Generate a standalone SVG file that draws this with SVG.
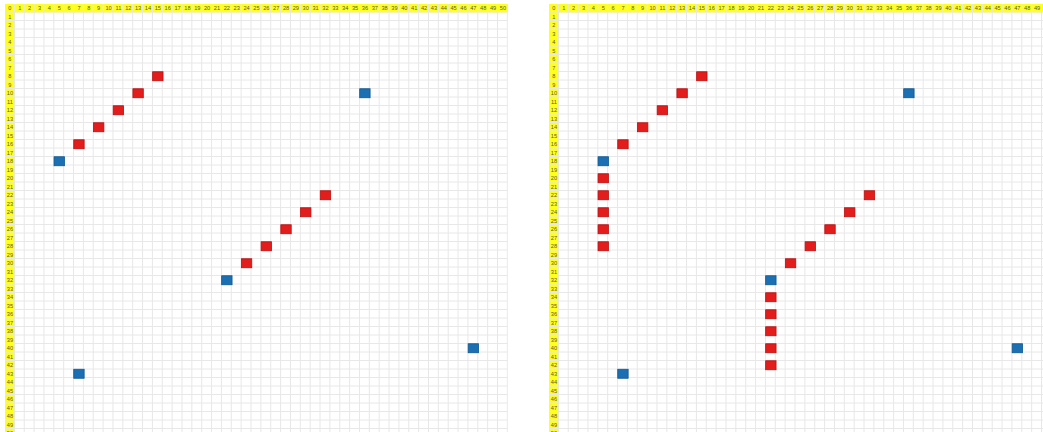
<svg xmlns="http://www.w3.org/2000/svg" xmlns:xlink="http://www.w3.org/1999/xlink" width="1043" height="432" viewBox="0 0 1043 432">
<style>
.hd{font-family:"Liberation Sans",Arial,sans-serif;font-size:5.6px;fill:#5a5a3a;text-anchor:middle;dominant-baseline:central}
.red{fill:#e31c1c;stroke:#b71212;stroke-width:0.8}
.blue{fill:#1b70b4;stroke:#0f568f;stroke-width:0.8}
</style>
<defs>
<pattern id="gp" x="5" y="4" width="9.86" height="8.5" patternUnits="userSpaceOnUse">
<path d="M9.36 0V8.5M0 8H9.86" fill="none" stroke="#e7e7e7" stroke-width="1"/>
</pattern>
<g id="grid">
<rect x="5" y="4" width="502.86" height="440" fill="#fff"/>
<rect x="5" y="4" width="502.86" height="8.5" fill="#ffff1e"/>
<rect x="5" y="4" width="9.86" height="440" fill="#ffff1e"/>
<rect x="5" y="4" width="502.86" height="440" fill="url(#gp)"/>
<g class="hd">
<text x="9.93" y="8.25">0</text><text x="19.79" y="8.25">1</text><text x="29.65" y="8.25">2</text><text x="39.51" y="8.25">3</text><text x="49.37" y="8.25">4</text><text x="59.23" y="8.25">5</text><text x="69.09" y="8.25">6</text><text x="78.95" y="8.25">7</text><text x="88.81" y="8.25">8</text><text x="98.67" y="8.25">9</text><text x="108.53" y="8.25">10</text><text x="118.39" y="8.25">11</text><text x="128.25" y="8.25">12</text><text x="138.11" y="8.25">13</text><text x="147.97" y="8.25">14</text><text x="157.83" y="8.25">15</text><text x="167.69" y="8.25">16</text><text x="177.55" y="8.25">17</text><text x="187.41" y="8.25">18</text><text x="197.27" y="8.25">19</text><text x="207.13" y="8.25">20</text><text x="216.99" y="8.25">21</text><text x="226.85" y="8.25">22</text><text x="236.71" y="8.25">23</text><text x="246.57" y="8.25">24</text><text x="256.43" y="8.25">25</text><text x="266.29" y="8.25">26</text><text x="276.15" y="8.25">27</text><text x="286.01" y="8.25">28</text><text x="295.87" y="8.25">29</text><text x="305.73" y="8.25">30</text><text x="315.59" y="8.25">31</text><text x="325.45" y="8.25">32</text><text x="335.31" y="8.25">33</text><text x="345.17" y="8.25">34</text><text x="355.03" y="8.25">35</text><text x="364.89" y="8.25">36</text><text x="374.75" y="8.25">37</text><text x="384.61" y="8.25">38</text><text x="394.47" y="8.25">39</text><text x="404.33" y="8.25">40</text><text x="414.19" y="8.25">41</text><text x="424.05" y="8.25">42</text><text x="433.91" y="8.25">43</text><text x="443.77" y="8.25">44</text><text x="453.63" y="8.25">45</text><text x="463.49" y="8.25">46</text><text x="473.35" y="8.25">47</text><text x="483.21" y="8.25">48</text><text x="493.07" y="8.25">49</text><text x="502.93" y="8.25">50</text>
<text x="9.93" y="16.75">1</text><text x="9.93" y="25.25">2</text><text x="9.93" y="33.75">3</text><text x="9.93" y="42.25">4</text><text x="9.93" y="50.75">5</text><text x="9.93" y="59.25">6</text><text x="9.93" y="67.75">7</text><text x="9.93" y="76.25">8</text><text x="9.93" y="84.75">9</text><text x="9.93" y="93.25">10</text><text x="9.93" y="101.75">11</text><text x="9.93" y="110.25">12</text><text x="9.93" y="118.75">13</text><text x="9.93" y="127.25">14</text><text x="9.93" y="135.75">15</text><text x="9.93" y="144.25">16</text><text x="9.93" y="152.75">17</text><text x="9.93" y="161.25">18</text><text x="9.93" y="169.75">19</text><text x="9.93" y="178.25">20</text><text x="9.93" y="186.75">21</text><text x="9.93" y="195.25">22</text><text x="9.93" y="203.75">23</text><text x="9.93" y="212.25">24</text><text x="9.93" y="220.75">25</text><text x="9.93" y="229.25">26</text><text x="9.93" y="237.75">27</text><text x="9.93" y="246.25">28</text><text x="9.93" y="254.75">29</text><text x="9.93" y="263.25">30</text><text x="9.93" y="271.75">31</text><text x="9.93" y="280.25">32</text><text x="9.93" y="288.75">33</text><text x="9.93" y="297.25">34</text><text x="9.93" y="305.75">35</text><text x="9.93" y="314.25">36</text><text x="9.93" y="322.75">37</text><text x="9.93" y="331.25">38</text><text x="9.93" y="339.75">39</text><text x="9.93" y="348.25">40</text><text x="9.93" y="356.75">41</text><text x="9.93" y="365.25">42</text><text x="9.93" y="373.75">43</text><text x="9.93" y="382.25">44</text><text x="9.93" y="390.75">45</text><text x="9.93" y="399.25">46</text><text x="9.93" y="407.75">47</text><text x="9.93" y="416.25">48</text><text x="9.93" y="424.75">49</text><text x="9.93" y="433.25">50</text>
</g>
</g>
<rect id="rc" x="-5.2" y="-4.5" width="10.4" height="9"/>
</defs>

<g id="grid-left"><use xlink:href="#grid"/></g>
<g id="grid-right" transform="translate(544,0)"><use xlink:href="#grid"/></g>

<g id="connectors"></g>

<g id="left-cells">
<g id="L-r-15-8" transform="translate(157.83,76.25)"><use xlink:href="#rc" class="red"/></g>
<g id="L-r-13-10" transform="translate(138.11,93.25)"><use xlink:href="#rc" class="red"/></g>
<g id="L-r-11-12" transform="translate(118.39,110.25)"><use xlink:href="#rc" class="red"/></g>
<g id="L-r-9-14" transform="translate(98.67,127.25)"><use xlink:href="#rc" class="red"/></g>
<g id="L-r-7-16" transform="translate(78.95,144.25)"><use xlink:href="#rc" class="red"/></g>
<g id="L-r-32-22" transform="translate(325.45,195.25)"><use xlink:href="#rc" class="red"/></g>
<g id="L-r-30-24" transform="translate(305.73,212.25)"><use xlink:href="#rc" class="red"/></g>
<g id="L-r-28-26" transform="translate(286.01,229.25)"><use xlink:href="#rc" class="red"/></g>
<g id="L-r-26-28" transform="translate(266.29,246.25)"><use xlink:href="#rc" class="red"/></g>
<g id="L-r-24-30" transform="translate(246.57,263.25)"><use xlink:href="#rc" class="red"/></g>
<g id="L-b-5-18" transform="translate(59.23,161.25)"><use xlink:href="#rc" class="blue"/></g>
<g id="L-b-36-10" transform="translate(364.89,93.25)"><use xlink:href="#rc" class="blue"/></g>
<g id="L-b-22-32" transform="translate(226.85,280.25)"><use xlink:href="#rc" class="blue"/></g>
<g id="L-b-47-40" transform="translate(473.35,348.25)"><use xlink:href="#rc" class="blue"/></g>
<g id="L-b-7-43" transform="translate(78.95,373.75)"><use xlink:href="#rc" class="blue"/></g>
</g>

<g id="right-cells">
<g id="R-r-15-8" transform="translate(701.83,76.25)"><use xlink:href="#rc" class="red"/></g>
<g id="R-r-13-10" transform="translate(682.11,93.25)"><use xlink:href="#rc" class="red"/></g>
<g id="R-r-11-12" transform="translate(662.39,110.25)"><use xlink:href="#rc" class="red"/></g>
<g id="R-r-9-14" transform="translate(642.67,127.25)"><use xlink:href="#rc" class="red"/></g>
<g id="R-r-7-16" transform="translate(622.95,144.25)"><use xlink:href="#rc" class="red"/></g>
<g id="R-r-5-20" transform="translate(603.23,178.25)"><use xlink:href="#rc" class="red"/></g>
<g id="R-r-5-22" transform="translate(603.23,195.25)"><use xlink:href="#rc" class="red"/></g>
<g id="R-r-5-24" transform="translate(603.23,212.25)"><use xlink:href="#rc" class="red"/></g>
<g id="R-r-5-26" transform="translate(603.23,229.25)"><use xlink:href="#rc" class="red"/></g>
<g id="R-r-5-28" transform="translate(603.23,246.25)"><use xlink:href="#rc" class="red"/></g>
<g id="R-r-32-22" transform="translate(869.45,195.25)"><use xlink:href="#rc" class="red"/></g>
<g id="R-r-30-24" transform="translate(849.73,212.25)"><use xlink:href="#rc" class="red"/></g>
<g id="R-r-28-26" transform="translate(830.01,229.25)"><use xlink:href="#rc" class="red"/></g>
<g id="R-r-26-28" transform="translate(810.29,246.25)"><use xlink:href="#rc" class="red"/></g>
<g id="R-r-24-30" transform="translate(790.57,263.25)"><use xlink:href="#rc" class="red"/></g>
<g id="R-r-22-34" transform="translate(770.85,297.25)"><use xlink:href="#rc" class="red"/></g>
<g id="R-r-22-36" transform="translate(770.85,314.25)"><use xlink:href="#rc" class="red"/></g>
<g id="R-r-22-38" transform="translate(770.85,331.25)"><use xlink:href="#rc" class="red"/></g>
<g id="R-r-22-40" transform="translate(770.85,348.25)"><use xlink:href="#rc" class="red"/></g>
<g id="R-r-22-42" transform="translate(770.85,365.25)"><use xlink:href="#rc" class="red"/></g>
<g id="R-b-5-18" transform="translate(603.23,161.25)"><use xlink:href="#rc" class="blue"/></g>
<g id="R-b-36-10" transform="translate(908.89,93.25)"><use xlink:href="#rc" class="blue"/></g>
<g id="R-b-22-32" transform="translate(770.85,280.25)"><use xlink:href="#rc" class="blue"/></g>
<g id="R-b-47-40" transform="translate(1017.35,348.25)"><use xlink:href="#rc" class="blue"/></g>
<g id="R-b-7-43" transform="translate(622.95,373.75)"><use xlink:href="#rc" class="blue"/></g>
</g>
</svg>
